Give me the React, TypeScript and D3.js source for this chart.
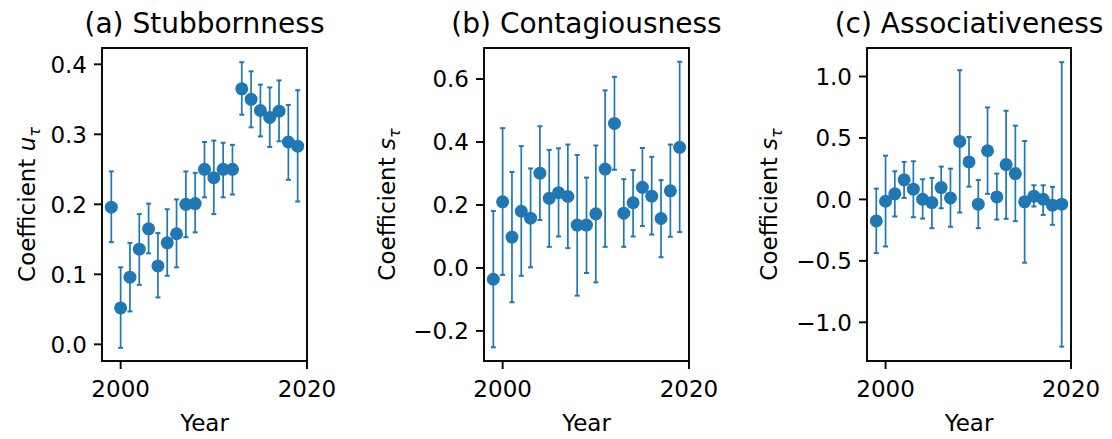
import React from "react";
import * as d3 from "d3";

const years = d3.range(1999, 2020);

// (a) stubbornness u_tau
const stubMean = [0.196, 0.052, 0.096, 0.136, 0.165, 0.112, 0.145, 0.158, 0.2, 0.201, 0.25, 0.238, 0.25, 0.25, 0.365, 0.35, 0.334, 0.324, 0.333, 0.289, 0.283];
const stubHi = [0.247, 0.11, 0.145, 0.186, 0.201, 0.159, 0.193, 0.207, 0.247, 0.245, 0.289, 0.291, 0.288, 0.285, 0.403, 0.39, 0.371, 0.367, 0.377, 0.342, 0.363];
const stubLo = [0.146, -0.005, 0.047, 0.085, 0.13, 0.067, 0.098, 0.11, 0.153, 0.16, 0.21, 0.186, 0.21, 0.214, 0.328, 0.31, 0.297, 0.282, 0.29, 0.235, 0.204];

// (b) contagiousness s_tau
const contMean = [-0.036, 0.21, 0.098, 0.18, 0.158, 0.301, 0.221, 0.239, 0.227, 0.136, 0.136, 0.172, 0.314, 0.459, 0.174, 0.207, 0.256, 0.228, 0.157, 0.245, 0.383];
const contHi = [0.181, 0.444, 0.305, 0.387, 0.316, 0.45, 0.375, 0.38, 0.392, 0.359, 0.287, 0.389, 0.564, 0.607, 0.282, 0.311, 0.381, 0.353, 0.279, 0.392, 0.655];
const contLo = [-0.252, -0.022, -0.109, -0.025, 0.002, 0.152, 0.067, 0.1, 0.063, -0.088, -0.016, -0.046, 0.067, 0.312, 0.067, 0.1, 0.133, 0.106, 0.034, 0.099, 0.114];

// (c) associativeness s_tau
const assocMean = [-0.175, -0.015, 0.045, 0.159, 0.083, 0.001, -0.026, 0.096, 0.012, 0.472, 0.305, -0.039, 0.396, 0.02, 0.283, 0.21, -0.02, 0.026, 0.001, -0.047, -0.039];
const assocHi = [0.088, 0.356, 0.229, 0.305, 0.31, 0.164, 0.175, 0.267, 0.25, 1.051, 0.507, 0.158, 0.748, 0.21, 0.721, 0.6, 0.475, 0.115, 0.115, 0.102, 1.116];
const assocLo = [-0.437, -0.383, -0.139, 0.012, -0.145, -0.156, -0.234, -0.072, -0.223, -0.107, 0.104, -0.234, 0.045, -0.164, -0.158, -0.177, -0.515, -0.058, -0.126, -0.207, -1.198];

const xTicks = [2000, 2020];
const stubTicks = [0, 0.1, 0.2, 0.3, 0.4];
const contTicks = [-0.2, 0, 0.2, 0.4, 0.6];
const assocTicks = [-1, -0.5, 0, 0.5, 1];

const BLUE = "#1f77b4";
const FONT = "DejaVu Sans, sans-serif";
const FS = 23;

function Panel({ left, right, title, yVar, mean, hi, lo, ticks, yDomain, ylabelX }) {
  const top = 48;
  const bottom = 361;
  const x = d3.scaleLinear().domain([1998, 2020]).range([left, right]);
  const y = d3.scaleLinear().domain(yDomain).range([bottom, top]);
  const fmt = d3.format(".1f");
  const cx = (left + right) / 2;
  const cy = (top + bottom) / 2;
  return (
    <g>
      <text x={cx} y={33} textAnchor="middle" fontSize={28} fontFamily={FONT}>{title}</text>
      {years.map((yr, i) => (
        <g key={yr} stroke={BLUE} strokeWidth={1.7}>
          <line x1={x(yr)} x2={x(yr)} y1={y(lo[i])} y2={y(hi[i])} />
          <line x1={x(yr) - 2.5} x2={x(yr) + 2.5} y1={y(lo[i])} y2={y(lo[i])} strokeWidth={2} />
          <line x1={x(yr) - 2.5} x2={x(yr) + 2.5} y1={y(hi[i])} y2={y(hi[i])} strokeWidth={2} />
        </g>
      ))}
      {years.map((yr, i) => (
        <circle key={yr} cx={x(yr)} cy={y(mean[i])} r={6.5} fill={BLUE} />
      ))}
      <rect x={left} y={top} width={right - left} height={bottom - top} fill="none" stroke="#000" strokeWidth={1.9} />
      {ticks.map((t) => (
        <g key={t}>
          <line x1={left - 8} x2={left} y1={y(t)} y2={y(t)} stroke="#000" strokeWidth={1.9} />
          <text x={left - 15} y={y(t)} dy="0.36em" textAnchor="end" fontSize={FS} fontFamily={FONT}>
            {fmt(t).replace("-", "\u2212")}
          </text>
        </g>
      ))}
      {xTicks.map((t) => (
        <g key={t}>
          <line x1={x(t)} x2={x(t)} y1={bottom} y2={bottom + 8} stroke="#000" strokeWidth={1.9} />
          <text x={x(t)} y={bottom + 36} textAnchor="middle" fontSize={FS} fontFamily={FONT}>{t}</text>
        </g>
      ))}
      <text x={cx} y={431} textAnchor="middle" fontSize={FS} fontFamily={FONT}>Year</text>
      <text transform={`translate(${ylabelX},${cy}) rotate(-90)`} textAnchor="middle" fontSize={FS} fontFamily={FONT}>
        Coefficient <tspan fontStyle="italic">{yVar}</tspan>
        <tspan fontSize={16} dy={5} fontStyle="italic">τ</tspan>
      </text>
    </g>
  );
}

export default function App() {
  return (
    <svg width={1112} height={439} style={{ position: "absolute", left: 0, top: 0, background: "#fff" }}>
      <Panel left={102} right={307} title="(a) Stubbornness" yVar="u" mean={stubMean} hi={stubHi} lo={stubLo}
        ticks={stubTicks} yDomain={[-0.0238, 0.4233]} ylabelX={35} />
      <Panel left={484} right={689} title="(b) Contagiousness" yVar="s" mean={contMean} hi={contHi} lo={contLo}
        ticks={contTicks} yDomain={[-0.2956, 0.6986]} ylabelX={395} />
      <Panel left={867} right={1071} title="(c) Associativeness" yVar="s" mean={assocMean} hi={assocHi} lo={assocLo}
        ticks={assocTicks} yDomain={[-1.3147, 1.2317]} ylabelX={777} />
    </svg>
  );
}
